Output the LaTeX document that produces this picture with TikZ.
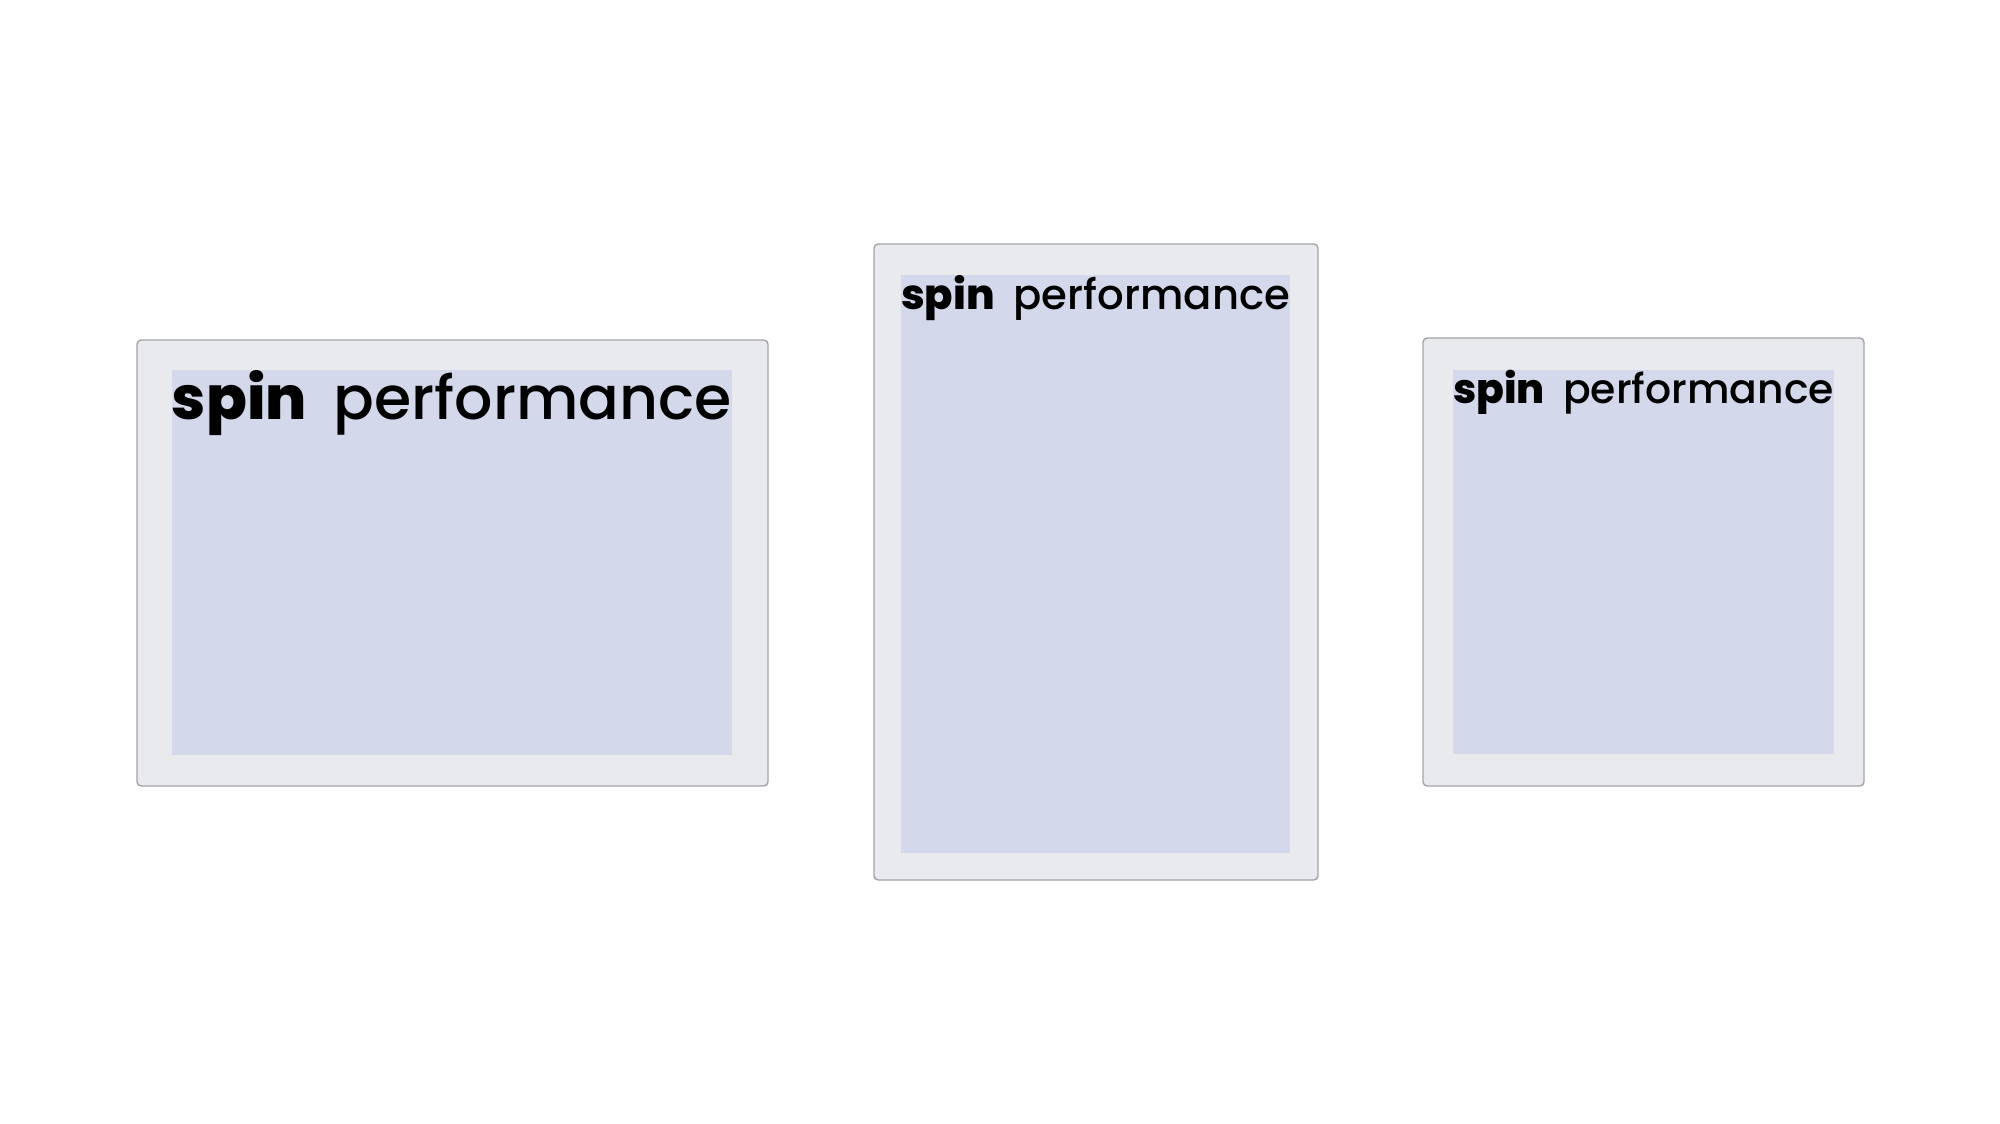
\documentclass[tikz,border=0pt]{standalone}
\usepackage{fontspec}
\setmainfont{Poppins}[UprightFont=* Medium, BoldFont=* ExtraBold]
\usepackage{graphicx}
\definecolor{framegray}{HTML}{A2A4A8}
\definecolor{framefill}{HTML}{E8EAED}
\definecolor{panelblue}{HTML}{D3D9EA}
\newcommand{\spintitle}[1]{\resizebox{#1}{!}{\textbf{spin}\hspace{0.45em}performance}}
\tikzset{
  frame/.style={draw=framegray, fill=framefill, line width=0.4pt, rounded corners=1.2pt},
  panel/.style={fill=panelblue},
  title/.style={anchor=north west, inner sep=0pt, outer sep=0pt},
}
\begin{document}
\begin{tikzpicture}[x=0.1mm, y=-0.1mm]
      \useasboundingbox[fill=white] (0,0) rectangle (2000,1124);
      % left frame
      \draw[frame] (137,340) rectangle (768,786);
      \fill[panel] (172,370) coordinate (p1) rectangle (732,755);
      \node[title] (t1) at (p1) {\spintitle{56.0mm}};
      % middle frame
      \draw[frame] (874,244) rectangle (1318,880);
      \fill[panel] (901,275) coordinate (p2) rectangle (1290,853);
      \node[title] (t2) at (p2) {\spintitle{38.9mm}};
      % right frame
      \draw[frame] (1423,338) rectangle (1864,786);
      \fill[panel] (1453,370) coordinate (p3) rectangle (1834,754);
      \node[title] (t3) at (p3) {\spintitle{38.1mm}};
    \end{tikzpicture}
\end{document}
